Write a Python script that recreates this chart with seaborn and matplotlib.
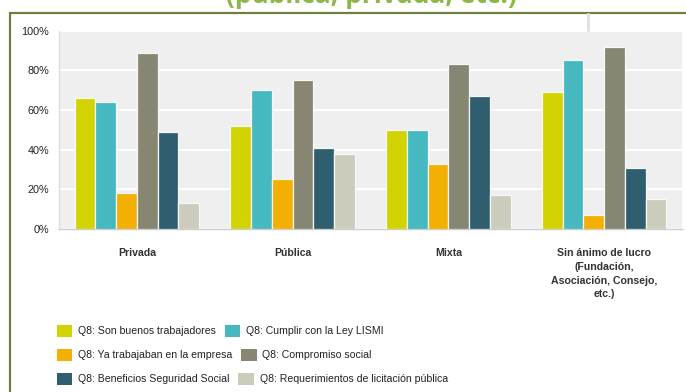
import matplotlib
matplotlib.use("Agg")
import matplotlib.pyplot as plt
from matplotlib.patches import Patch
from matplotlib.lines import Line2D
import seaborn as sns
import pandas as pd

# Survey data: Q8 reasons by organisation type (% of respondents)
categories = [
    "Privada",
    "Pública",
    "Mixta",
    "Sin ánimo de lucro\n(Fundación,\nAsociación, Consejo,\netc.)",
]
series = [
    "Q8: Son buenos trabajadores",
    "Q8: Cumplir con la Ley LISMI",
    "Q8: Ya trabajaban en la empresa",
    "Q8: Compromiso social",
    "Q8: Beneficios Seguridad Social",
    "Q8: Requerimientos de licitación pública",
]
buenos_trabajadores = [66, 52, 50, 69]
ley_lismi = [64, 70, 50, 85]
ya_trabajaban = [18, 25, 33, 7]
compromiso_social = [89, 75, 83, 92]
seguridad_social = [49, 41, 67, 31]
licitacion_publica = [13, 38, 17, 15]
yticks = [0, 20, 40, 60, 80, 100]
ytick_labels = ["0%", "20%", "40%", "60%", "80%", "100%"]
title_text = "(pública, privada, etc.)"

colors = ["#D1D400", "#45B8C0", "#F4B000", "#868673", "#2F5F6E", "#CCCCBC"]

values = [buenos_trabajadores, ley_lismi, ya_trabajaban,
          compromiso_social, seguridad_social, licitacion_publica]
rows = []
for name, vals in zip(series, values):
    for cat, v in zip(categories, vals):
        rows.append({"tipo": cat, "serie": name, "pct": v})
df = pd.DataFrame(rows)

sns.set_theme(style="white")
plt.rcParams["font.family"] = ["Liberation Sans", "DejaVu Sans"]

fig = plt.figure(figsize=(6.86, 3.92), dpi=100)
ax = fig.add_axes([59 / 686, 1 - 229 / 392, (682 - 59) / 686, (229 - 30.7) / 392])
ax.set_facecolor("#EFEFEF")

sns.barplot(data=df, x="tipo", y="pct", hue="serie", order=categories,
            hue_order=series, palette=colors, saturation=1, width=0.8,
            edgecolor="#F7F7F7", linewidth=0.9, legend=False, ax=ax, zorder=3)

ax.set_ylim(0, 100)
ax.set_xlim(-0.5, 3.5)
ax.set_yticks(yticks)
ax.set_yticklabels(ytick_labels, fontsize=7.8, color="#222222")
ax.yaxis.grid(True, color="white", linewidth=1.4, zorder=0)
ax.set_axisbelow(True)
ax.tick_params(axis="y", length=0, pad=7)
ax.tick_params(axis="x", length=0, pad=14)
for lbl in ax.get_xticklabels():
    lbl.set_fontsize(7.6)
    lbl.set_fontweight("bold")
    lbl.set_color("#333333")
    lbl.set_linespacing(1.45)
ax.set_xlabel("")
ax.set_ylabel("")
for side in ["top", "right"]:
    ax.spines[side].set_visible(False)
ax.spines["left"].set_color("#DDDDDD")
ax.spines["left"].set_linewidth(1.0)
ax.spines["bottom"].set_color("#CCCCCC")
ax.spines["bottom"].set_linewidth(1.0)

# Legend: three rows of two entries each, flowing left to right
row_y = [331, 355, 379]
for r, yy in enumerate(row_y):
    handles = [Patch(facecolor=colors[2 * r + k], edgecolor="none")
               for k in range(2)]
    leg = fig.legend(handles, series[2 * r:2 * r + 2], ncol=2,
                     loc="center left", bbox_to_anchor=(57 / 686, 1 - yy / 392),
                     frameon=False, fontsize=7.6, handlelength=1.45,
                     handleheight=1.45, handletextpad=0.55,
                     columnspacing=0.85, borderpad=0, borderaxespad=0)
    for t in leg.get_texts():
        t.set_color("#222222")

# Slide frame and title fragment (the heading runs above the top edge)
fig.add_artist(Line2D([9.5 / 686, 1], [1 - 12.5 / 392, 1 - 12.5 / 392],
                      color="#6E8040", linewidth=1.6, transform=fig.transFigure))
fig.add_artist(Line2D([9.5 / 686, 9.5 / 686], [0, 1 - 12.5 / 392],
                      color="#6E8040", linewidth=1.6, transform=fig.transFigure))
fig.add_artist(Line2D([588 / 686, 588 / 686], [1 - 14 / 392, 1 - 30 / 392],
                      color="#E2E2E2", linewidth=2.2, transform=fig.transFigure))
fig.text(371 / 686, 1 - 3 / 392, title_text, ha="center", va="baseline",
         fontsize=19, fontweight="bold", color="#8CB84A",
         family=["Open Sans", "DejaVu Sans"])

fig.savefig("out.png", dpi=100)
